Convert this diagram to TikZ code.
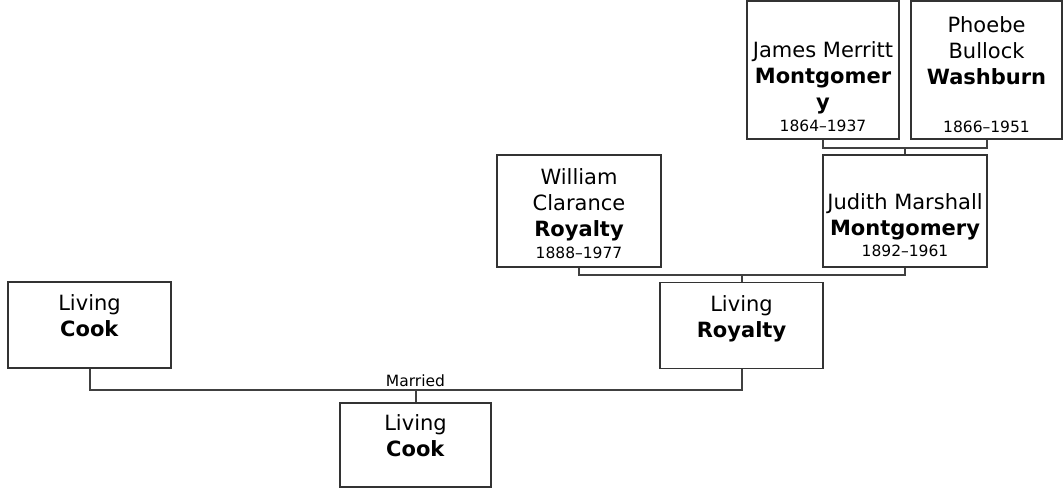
\documentclass[tikz,border=0pt]{standalone}
\usepackage{fontspec}
\setmainfont{DejaVu Sans}
\newcommand{\yrs}[1]{{\fontsize{15.5}{18}\selectfont #1}}
\begin{document}
\begin{tikzpicture}[x=1pt, y=-1pt,
    person/.style={draw=black!80, line width=1.6pt, fill=white, align=center,
                   inner sep=0pt, font=\fontsize{21}{26}\selectfont},
    link/.style={draw=black!75, line width=2pt},
    tag/.style={font=\fontsize{15.5}{18}\selectfont, inner sep=2pt}]
    \useasboundingbox (0,0) rectangle (1064,489);

    \node[person, minimum width=152, minimum height=138] (james) at (823,70)
        {\rule{0pt}{24pt}\\James Merritt\\\textbf{Montgomer}\\\textbf{y}\\[-4pt]\yrs{1864–1937}};
    \node[person, minimum width=151, minimum height=138] (phoebe) at (986.5,70)
        {\rule{0pt}{25pt}Phoebe\\Bullock\\\textbf{Washburn}\\\mbox{}\\[-4pt]\yrs{1866–1951}};
    \node[person, minimum width=164, minimum height=112] (william) at (579,211)
        {\rule{0pt}{21pt}William\\Clarance\\\textbf{Royalty}\\[-4pt]\yrs{1888–1977}};
    \node[person, minimum width=164, minimum height=112] (judith) at (905,211)
        {\rule{0pt}{18pt}\\Judith Marshall\\\textbf{Montgomery}\\[-5pt]\yrs{1892–1961}};
    \node[person, minimum width=163, minimum height=86] (cook) at (89.5,325)
        {Living\\\textbf{Cook}\rule[-18pt]{0pt}{18pt}};
    \node[person, minimum width=163, minimum height=86] (royalty) at (741.5,325.5)
        {Living\\\textbf{Royalty}\rule[-18pt]{0pt}{18pt}};
    \node[person, minimum width=151, minimum height=84] (child) at (415.5,445)
        {Living\\\textbf{Cook}\rule[-18pt]{0pt}{18pt}};

    \draw[link] (james.south) -- ++(0,8) coordinate (jp) -| (phoebe.south);
    \draw[link] (judith.north) -- (judith.north |- jp);
    \draw[link] (william.south) -- ++(0,7) coordinate (wj) -| (judith.south);
    \draw[link] (royalty.north) -- (royalty.north |- wj);
    \draw[link] (cook.south) -- ++(0,21) coordinate (mar) -| (royalty.south);
    \draw[link] (child.north) -- (child.north |- mar) node[tag, above] {Married};
\end{tikzpicture}
\end{document}
